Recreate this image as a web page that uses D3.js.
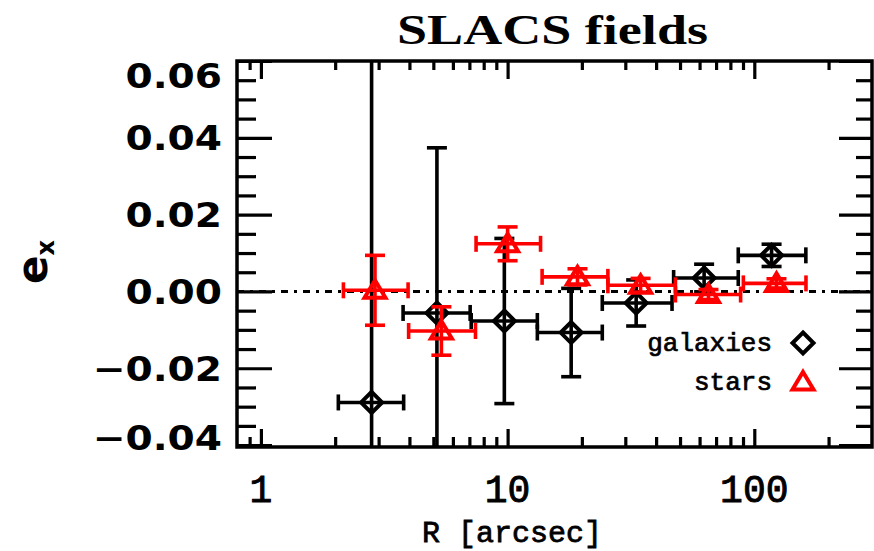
<!DOCTYPE html>
<html><head><meta charset="utf-8">
<script src="https://cdn.jsdelivr.net/npm/d3@7"></script>
<style>body{margin:0;background:#fff}svg{display:block}</style>
</head><body>
<script>
// ---- data ----
const galR    = [2.81, 5.17, 9.7, 18.1, 33.2, 62.6, 117.5];
const galRlo  = [2.06, 3.77, 7.12, 13.2, 24.2, 47.1, 86.1];
const galRhi  = [3.79, 7.05, 13.2, 24.2, 46.4, 86.1, 161.8];
const galE    = [-0.0289, -0.0056, -0.0077, -0.0107, -0.0030, 0.0035, 0.0094];
const galErr  = [0.095, 0.043, 0.0215, 0.0115, 0.0060, 0.0036, 0.0029];

const starR   = [2.9, 5.39, 10.0, 19.2, 34.6, 65.2, 123];
const starRlo = [2.16, 3.97, 7.45, 13.8, 25.5, 47.9, 90.3];
const starRhi = [3.95, 7.41, 13.6, 25.5, 47.9, 88, 162];
const starE   = [0.0003, -0.0103, 0.0124, 0.0038, 0.0016, -0.0008, 0.0021];
const starErr = [0.0091, 0.0063, 0.0044, 0.0021, 0.0018, 0.0013, 0.0012];

const xTickValues = [1, 10, 100];
const xTickLabels = ["1", "10", "100"];
const yTickValues = [-0.04, -0.02, 0.00, 0.02, 0.04, 0.06];
const yTickLabels = ["\u22120.04", "\u22120.02", "0.00", "0.02", "0.04", "0.06"];
const legendLabels = ["galaxies", "stars"];
const titleText = "SLACS fields";
const xTitle = "R [arcsec]";

// ---- layout ----
const W = 874, H = 551;
const m = {left: 237, right: 872, top: 61, bottom: 447};
const x = d3.scaleLog().domain([0.8, 300]).range([m.left, m.right]);
const y = d3.scaleLinear().domain([-0.0405, 0.06]).range([m.bottom, m.top]);

const svg = d3.select("body").append("svg").attr("width", W).attr("height", H);

svg.append("defs").append("clipPath").attr("id", "clip")
  .append("rect").attr("x", m.left).attr("y", m.top)
  .attr("width", m.right - m.left).attr("height", m.bottom - m.top);

// ---- ticks via d3 axes ----
const allX = x.ticks().filter(v => v > 0.8 && v < 300);
const majX = allX.filter(v => xTickValues.includes(v));
const minX = allX.filter(v => !xTickValues.includes(v));
const yMinor = d3.range(-40, 61, 5).map(v => v / 1000).filter(v => !yTickValues.some(t => Math.abs(t - v) < 1e-9));

function styleAxis(g) {
  g.select(".domain").remove();
  g.selectAll("line").attr("stroke", "#000").attr("stroke-width", 3.2);
  g.selectAll("text").remove();
}
svg.append("g").attr("transform", `translate(0,${m.bottom})`)
  .call(d3.axisBottom(x).tickValues(majX).tickSizeInner(-18).tickSizeOuter(0)).call(styleAxis);
svg.append("g").attr("transform", `translate(0,${m.bottom})`)
  .call(d3.axisBottom(x).tickValues(minX).tickSizeInner(-10).tickSizeOuter(0)).call(styleAxis);
svg.append("g").attr("transform", `translate(0,${m.top})`)
  .call(d3.axisTop(x).tickValues(majX).tickSizeInner(-18).tickSizeOuter(0)).call(styleAxis);
svg.append("g").attr("transform", `translate(0,${m.top})`)
  .call(d3.axisTop(x).tickValues(minX).tickSizeInner(-9).tickSizeOuter(0)).call(styleAxis);
svg.append("g").attr("transform", `translate(${m.left},0)`)
  .call(d3.axisLeft(y).tickValues(yTickValues).tickSizeInner(-35).tickSizeOuter(0)).call(styleAxis);
svg.append("g").attr("transform", `translate(${m.left},0)`)
  .call(d3.axisLeft(y).tickValues(yMinor).tickSizeInner(-19).tickSizeOuter(0)).call(styleAxis);
svg.append("g").attr("transform", `translate(${m.right},0)`)
  .call(d3.axisRight(y).tickValues(yTickValues).tickSizeInner(-33).tickSizeOuter(0)).call(styleAxis);
svg.append("g").attr("transform", `translate(${m.right},0)`)
  .call(d3.axisRight(y).tickValues(yMinor).tickSizeInner(-16).tickSizeOuter(0)).call(styleAxis);

// zero line
svg.append("line").attr("x1", m.left).attr("x2", m.right)
  .attr("y1", y(0)).attr("y2", y(0))
  .attr("stroke", "#000").attr("stroke-width", 3).attr("stroke-dasharray", "7,6,3,6");

// frame
svg.append("rect").attr("x", m.left).attr("y", m.top)
  .attr("width", m.right - m.left).attr("height", m.bottom - m.top)
  .attr("fill", "none").attr("stroke", "#000").attr("stroke-width", 3.5);

// ---- error bars & markers ----
const plot = svg.append("g").attr("clip-path", "url(#clip)");
const capY = 10, capX = 8;
function drawSeries(R, Rlo, Rhi, E, Err, color, marker) {
  const data = R.map((r, i) => ({r, lo: Rlo[i], hi: Rhi[i], e: E[i], err: Err[i]}));
  const g = plot.append("g").attr("stroke", color).attr("stroke-width", 3.6).attr("fill", "none");
  data.forEach(d => {
    const cx = x(d.r), cy = y(d.e);
    const y1 = y(d.e + d.err), y2 = y(d.e - d.err);
    g.append("line").attr("x1", cx).attr("x2", cx).attr("y1", y1).attr("y2", y2);
    g.append("line").attr("x1", cx - capY).attr("x2", cx + capY).attr("y1", y1).attr("y2", y1);
    g.append("line").attr("x1", cx - capY).attr("x2", cx + capY).attr("y1", y2).attr("y2", y2);
    const xa = x(d.lo), xb = x(d.hi);
    g.append("line").attr("x1", xa).attr("x2", xb).attr("y1", cy).attr("y2", cy);
    g.append("line").attr("x1", xa).attr("x2", xa).attr("y1", cy - capX).attr("y2", cy + capX);
    g.append("line").attr("x1", xb).attr("x2", xb).attr("y1", cy - capX).attr("y2", cy + capX);
    marker(g, cx, cy);
  });
}
function diamond(g, cx, cy) {
  const s = 10.5;
  g.append("path").attr("d", `M${cx},${cy - s}L${cx + s},${cy}L${cx},${cy + s}L${cx - s},${cy}Z`)
    .attr("stroke-width", 4);
}
function triangle(g, cx, cy) {
  const s = 10;
  g.append("path").attr("d", `M${cx},${cy - s}L${cx + s * 1.05},${cy + s * 0.75}L${cx - s * 1.05},${cy + s * 0.75}Z`)
    .attr("stroke-width", 4);
}
drawSeries(galR, galRlo, galRhi, galE, galErr, "#000", diamond);
drawSeries(starR, starRlo, starRhi, starE, starErr, "#ff0000", triangle);

// ---- legend ----
const lg = svg.append("g");
const legY = [343, 382];
const legColors = ["#000", "#ff0000"];
const legMarkers = [diamond, triangle];
legendLabels.forEach((t, i) => {
  lg.append("text").attr("x", 772).attr("y", legY[i] + 8).attr("text-anchor", "end")
    .attr("font-family", "Liberation Mono").attr("font-size", 26)
    .attr("fill", "#000").attr("stroke", "#000").attr("stroke-width", 0.7).text(t);
  const g = lg.append("g").attr("stroke", legColors[i]).attr("fill", "none");
  legMarkers[i](g, 803, legY[i]);
});

// ---- labels ----
svg.append("text").attr("x", 397).attr("y", 44)
  .attr("font-family", "Liberation Serif").attr("font-weight", "bold").attr("font-size", 42)
  .attr("textLength", 311).attr("lengthAdjust", "spacingAndGlyphs").text(titleText);

yTickValues.forEach((v, i) => {
  let cy = y(v);
  cy = Math.max(cy, m.top + 14);
  cy = Math.min(cy, m.bottom - 10);
  const t = svg.append("text").attr("x", 222).attr("y", cy + 12.5).attr("text-anchor", "end")
    .attr("font-family", "DejaVu Sans").attr("font-weight", "bold").attr("font-size", 34)
    .text(yTickLabels[i]);
  const w = t.node().getComputedTextLength();
  t.attr("textLength", w * 1.15).attr("lengthAdjust", "spacingAndGlyphs");
});

xTickValues.forEach((v, i) => {
  svg.append("text").attr("x", x(v)).attr("y", 502).attr("text-anchor", "middle")
    .attr("font-family", "Liberation Mono").attr("font-size", 38)
    .attr("stroke", "#000").attr("stroke-width", 0.9).text(xTickLabels[i]);
});
svg.append("text").attr("x", 512).attr("y", 542).attr("text-anchor", "middle")
  .attr("font-family", "Liberation Mono").attr("font-size", 30)
  .attr("stroke", "#000").attr("stroke-width", 0.8).text(xTitle);

// y title e_x rotated
const yt = svg.append("text").attr("transform", "translate(47,284) rotate(-90)")
  .attr("font-family", "DejaVu Sans").attr("font-weight", "bold").attr("font-size", 42);
yt.append("tspan").text("e");
yt.append("tspan").attr("font-size", 24).attr("dy", 7).text("x");
</script>
</body></html>
